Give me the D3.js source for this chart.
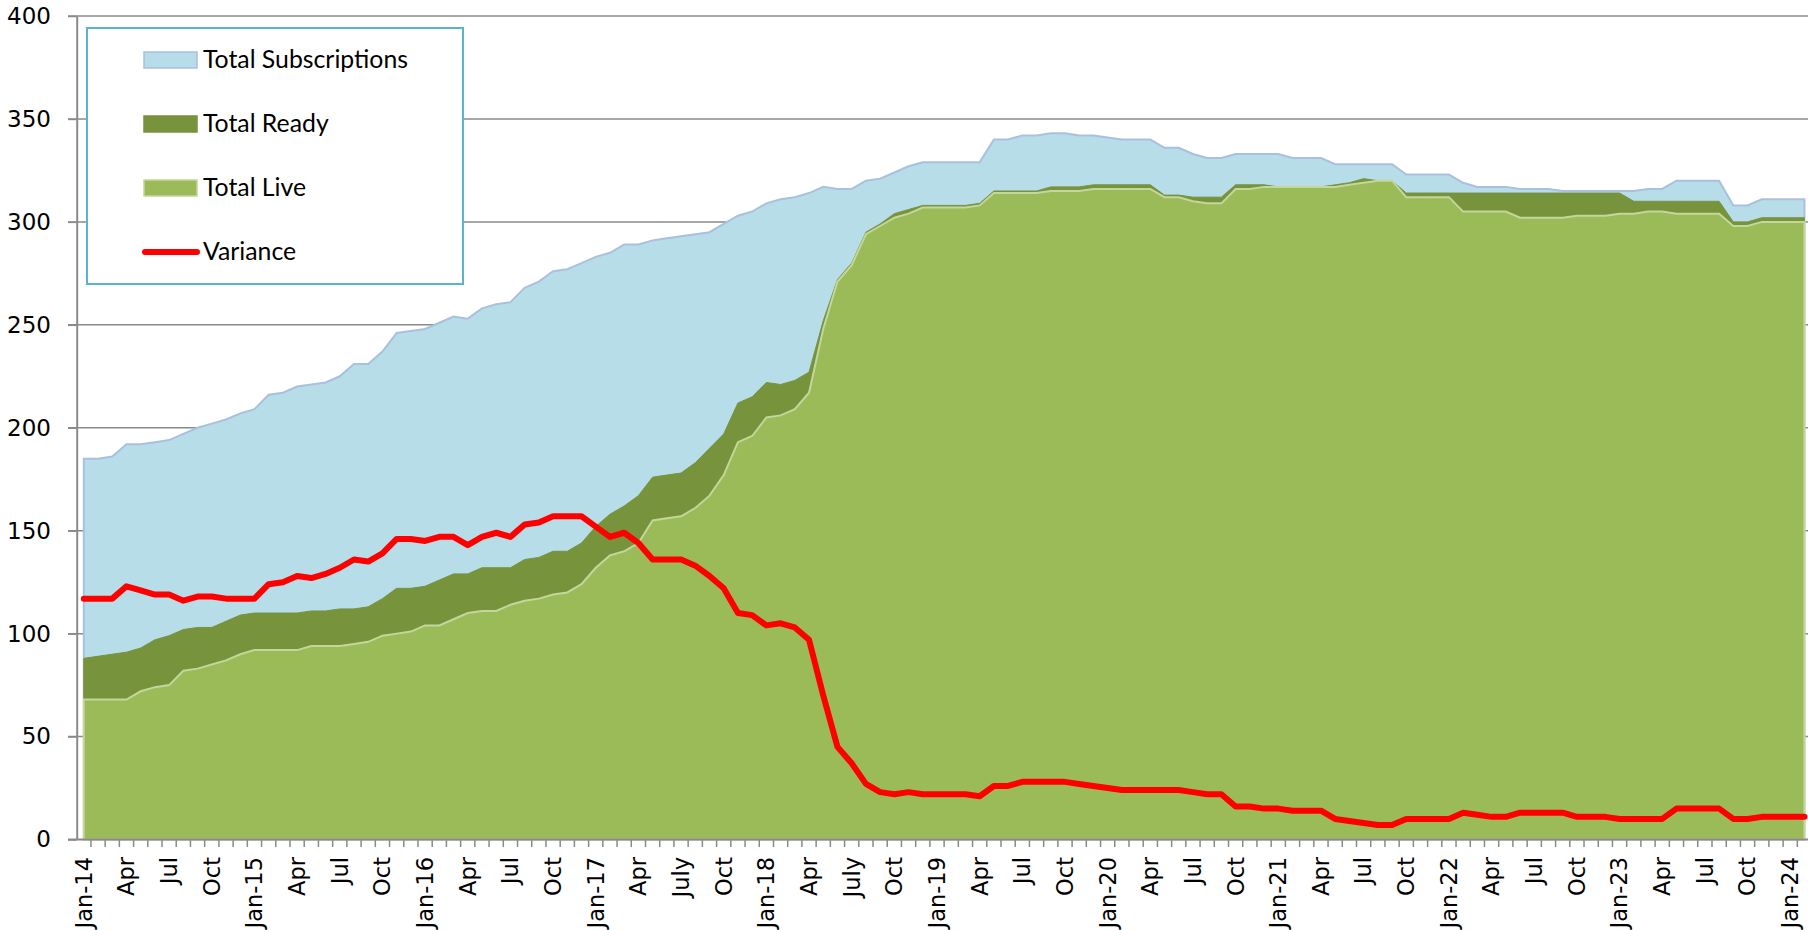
<!DOCTYPE html>
<html>
<head>
<meta charset="utf-8">
<script src="https://cdn.jsdelivr.net/npm/d3@7"></script>
<style>
  body { margin: 0; background: #ffffff; }
</style>
</head>
<body>
<div id="chart"></div>
<script>
// Monthly values, Jan-14 .. Feb-24 (122 months)
const subscriptions = [
  185,185,186,192,192,193,194,197,200,202,
  204,207,209,216,217,220,221,222,225,231,
  231,237,246,247,248,251,254,253,258,260,
  261,268,271,276,277,280,283,285,289,289,
  291,292,293,294,295,299,303,305,309,311,
  312,314,317,316,316,320,321,324,327,329,
  329,329,329,329,340,340,342,342,343,343,
  342,342,341,340,340,340,336,336,333,331,
  331,333,333,333,333,331,331,331,328,328,
  328,328,328,323,323,323,323,319,317,317,
  317,316,316,316,315,315,315,315,315,315,
  316,316,320,320,320,320,308,308,311,311,
  311,311
];

const ready = [
  88,89,90,91,93,97,99,102,103,103,
  106,109,110,110,110,110,111,111,112,112,
  113,117,122,122,123,126,129,129,132,132,
  132,136,137,140,140,144,152,158,162,167,
  176,177,178,183,190,197,212,215,222,221,
  223,227,252,272,280,295,299,304,306,308,
  308,308,308,309,315,315,315,315,317,317,
  317,318,318,318,318,318,313,313,312,312,
  312,318,318,318,317,317,317,317,318,319,
  321,320,320,314,314,314,314,314,314,314,
  314,314,314,314,314,314,314,314,314,310,
  310,310,310,310,310,310,300,300,302,302,
  302,302
];

const live = [
  68,68,68,68,72,74,75,82,83,85,
  87,90,92,92,92,92,94,94,94,95,
  96,99,100,101,104,104,107,110,111,111,
  114,116,117,119,120,124,132,138,140,144,
  155,156,157,161,167,177,193,196,205,206,
  209,217,248,271,279,294,298,302,304,307,
  307,307,307,308,314,314,314,314,315,315,
  315,316,316,316,316,316,312,312,310,309,
  309,316,316,317,317,317,317,317,317,318,
  319,320,320,312,312,312,312,305,305,305,
  305,302,302,302,302,303,303,303,304,304,
  305,305,304,304,304,304,298,298,300,300,
  300,300
];

const variance = [
  117,117,117,123,121,119,119,116,118,118,
  117,117,117,124,125,128,127,129,132,136,
  135,139,146,146,145,147,147,143,147,149,
  147,153,154,157,157,157,152,147,149,144,
  136,136,136,133,128,122,110,109,104,105,
  103,97,70,45,37,27,23,22,23,22,
  22,22,22,21,26,26,28,28,28,28,
  27,26,25,24,24,24,24,24,23,22,
  22,16,16,15,15,14,14,14,10,9,
  8,7,7,10,10,10,10,13,12,11,
  11,13,13,13,13,11,11,11,10,10,
  10,10,15,15,15,15,10,10,11,11,
  11,11
];

// One label every third month
const tickLabels = [
  "Jan-14","Apr","Jul","Oct","Jan-15","Apr","Jul","Oct",
  "Jan-16","Apr","Jul","Oct","Jan-17","Apr","July","Oct",
  "Jan-18","Apr","July","Oct","Jan-19","Apr","Jul","Oct",
  "Jan-20","Apr","Jul","Oct","Jan-21","Apr","Jul","Oct",
  "Jan-22","Apr","Jul","Oct","Jan-23","Apr","Jul","Oct","Jan-24"
];

const yTicks = [0, 50, 100, 150, 200, 250, 300, 350, 400];
const legendNames = ["Total Subscriptions", "Total Ready", "Total Live", "Variance"];

// Layout
const width = 1808;
const height = 930;
const plotLeft = 76.7;
const step = 14.22;
const axisColor = "#8a8a8a";

const svg = d3.select("#chart")
  .append("svg")
    .attr("width", width)
    .attr("height", height);

const months = d3.range(subscriptions.length);

// Category axis, points sit in the middle of each month band
const x = d3.scaleBand()
  .domain(months)
  .range([plotLeft, plotLeft + step * months.length])
  .padding(0);
const xc = (i) => x(i) + x.bandwidth() / 2;

const y = d3.scaleLinear()
  .domain([0, 400])
  .range([839.5, 16]);

// Horizontal gridlines
svg.append("g")
  .selectAll("line")
  .data(yTicks.filter(d => d > 0))
  .join("line")
    .attr("x1", 68)
    .attr("x2", width)
    .attr("y1", d => y(d))
    .attr("y2", d => y(d))
    .attr("stroke", axisColor)
    .attr("stroke-width", 1.5);

// Areas: drawn back to front, not stacked
function areaPath(values) {
  return d3.area()
    .x((d, i) => xc(i))
    .y0(y(0))
    .y1(d => y(d))(values);
}

svg.append("path")
  .attr("d", areaPath(subscriptions) + "Z")
  .attr("fill", "#b7dde8")
  .attr("stroke", "#a9c0df")
  .attr("stroke-width", 2);

svg.append("path")
  .attr("d", areaPath(ready) + "Z")
  .attr("fill", "#77933c")
  .attr("stroke", "#77933c")
  .attr("stroke-width", 1);

svg.append("path")
  .attr("d", areaPath(live) + "Z")
  .attr("fill", "#9bbb59")
  .attr("stroke", "#c3d69b")
  .attr("stroke-width", 2);

// Variance line
svg.append("path")
  .attr("d", d3.line().x((d, i) => xc(i)).y(d => y(d))(variance))
  .attr("fill", "none")
  .attr("stroke", "#ff0000")
  .attr("stroke-width", 6)
  .attr("stroke-linejoin", "round")
  .attr("stroke-linecap", "round");

// Y axis
const yAxis = svg.append("g")
  .attr("transform", `translate(${plotLeft},0)`)
  .call(d3.axisLeft(y).tickValues(yTicks).tickSize(8.7).tickSizeOuter(0).tickPadding(17));
yAxis.select(".domain").attr("stroke", axisColor).attr("stroke-width", 2);
yAxis.selectAll(".tick line").attr("stroke", axisColor).attr("stroke-width", 1.5);
yAxis.selectAll(".tick text")
  .style("font-family", "'DejaVu Sans', sans-serif")
  .style("font-size", "23px")
  .attr("fill", "#000");

// X axis line and month ticks at band edges
svg.append("line")
  .attr("x1", 68)
  .attr("x2", width)
  .attr("y1", y(0))
  .attr("y2", y(0))
  .attr("stroke", axisColor)
  .attr("stroke-width", 2);

svg.append("g")
  .selectAll("line")
  .data(months.slice(1).concat([months.length]))
  .join("line")
    .attr("x1", i => plotLeft + i * x.step())
    .attr("x2", i => plotLeft + i * x.step())
    .attr("y1", y(0))
    .attr("y2", y(0) + 7.5)
    .attr("stroke", axisColor)
    .attr("stroke-width", 1.5);

// Rotated month labels
svg.append("g")
  .selectAll("text")
  .data(tickLabels)
  .join("text")
    .attr("transform", (d, k) => `translate(${xc(k * 3)},857) rotate(-90)`)
    .attr("dy", "0.35em")
    .attr("text-anchor", "end")
    .style("font-family", "'DejaVu Sans', sans-serif")
    .style("font-size", "22.5px")
    .attr("fill", "#000")
    .text(d => d);

// Legend
const legend = svg.append("g");
legend.append("rect")
  .attr("x", 87)
  .attr("y", 28)
  .attr("width", 376)
  .attr("height", 256)
  .attr("fill", "#fff")
  .attr("stroke", "#5bb3cf")
  .attr("stroke-width", 2);

const swatchFill = ["#b7dde8", "#77933c", "#9bbb59"];
const swatchStroke = ["#a9c0df", "#77933c", "#c3d69b"];

legendNames.forEach(function (name, k) {
  const rowY = 60 + k * 64;
  if (k < 3) {
    legend.append("rect")
      .attr("x", 144)
      .attr("y", rowY - 8)
      .attr("width", 53)
      .attr("height", 16)
      .attr("fill", swatchFill[k])
      .attr("stroke", swatchStroke[k])
      .attr("stroke-width", 1.5);
  } else {
    legend.append("line")
      .attr("x1", 145)
      .attr("x2", 197)
      .attr("y1", rowY)
      .attr("y2", rowY)
      .attr("stroke", "#ff0000")
      .attr("stroke-width", 6)
      .attr("stroke-linecap", "round");
  }
  legend.append("text")
    .attr("x", 203)
    .attr("y", rowY + 8)
    .style("font-family", "Lato, sans-serif")
    .style("font-size", "24.8px")
    .attr("fill", "#000")
    .text(name);
});
</script>
</body>
</html>
